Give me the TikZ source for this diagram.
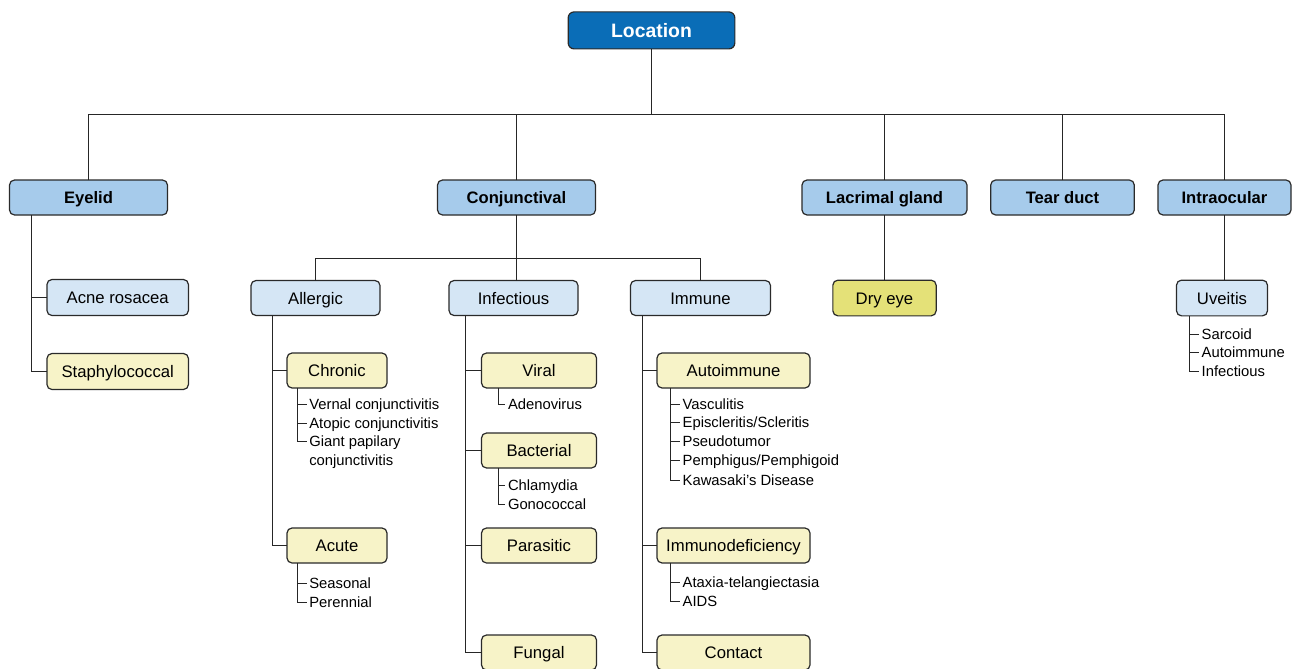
\documentclass[tikz,border=0pt]{standalone}
\usepackage{fontspec}
\setmainfont{Liberation Sans}
\definecolor{locblue}{HTML}{0A6DB7}
\definecolor{hdrblue}{HTML}{A6CBEB}
\definecolor{subblue}{HTML}{D5E6F5}
\definecolor{subyel}{HTML}{F7F3C8}
\definecolor{dryyel}{HTML}{E4E178}
\definecolor{edge}{HTML}{2A2A2A}
\begin{document}
\begin{tikzpicture}[x=1pt,y=-1pt,
  box/.style={draw=edge,line width=1.2pt,rounded corners=5pt,inner sep=0pt,outer sep=0pt,
    minimum height=35pt,align=center,font=\fontsize{16.7}{20}\selectfont,text height=12pt,text depth=0pt},
  rootbox/.style={box,fill=locblue,text=white,minimum height=37pt,rounded corners=6pt,
    font=\fontsize{19.4}{23}\selectfont\bfseries,text height=13.9pt},
  hdrbox/.style={box,fill=hdrblue,font=\fontsize{16.6}{20}\selectfont\bfseries},
  bluebox/.style={box,fill=subblue},
  yelbox/.style={box,fill=subyel},
  drybox/.style={box,fill=dryyel},
  item/.style={anchor=west,inner xsep=2.6pt,inner ysep=0pt,outer sep=0pt,font=\fontsize{14.8}{18}\selectfont,
    text height=10.6pt,text depth=0pt},
  conn/.style={draw=black!85,line width=1.5pt},
  lconn/.style={draw=black!85,line width=1.1pt}
]
\useasboundingbox (0,0) rectangle (1296,669);

% root and level 1
\node[rootbox,minimum width=166.7pt] (location) at (651.5,30.4) {Location};
\node[hdrbox,minimum width=158pt] (eyelid) at (88.5,197.5) {Eyelid};
\node[hdrbox,minimum width=158pt] (conj) at (516.5,197.5) {Conjunctival};
\node[hdrbox,minimum width=165pt] (lacr) at (884.5,197.5) {Lacrimal gland};
\node[hdrbox,minimum width=143.6pt] (tear) at (1062.5,197.5) {Tear duct};
\node[hdrbox,minimum width=133pt] (intra) at (1224.5,197.5) {Intraocular};

\coordinate (bus) at (651.5,114.5);
\draw[conn] (location.south) -- (bus);
\draw[conn] (eyelid.north) |- (bus) -| (intra.north);
\draw[conn] (conj.north) -- (conj.north |- bus);
\draw[conn] (lacr.north) -- (lacr.north |- bus);
\draw[conn] (tear.north) -- (tear.north |- bus);

% Eyelid
\node[bluebox,minimum width=141.5pt,minimum height=36pt] (acne) at (117.7,297.5) {Acne rosacea};
\node[yelbox,minimum width=141.5pt,minimum height=36pt] (staph) at (117.7,371.5) {Staphylococcal};
\coordinate (eyl) at ([xshift=22pt]eyelid.south west);
\draw[conn] (eyl) |- (staph.west);
\draw[conn] (eyl |- acne.west) -- (acne.west);

% Conjunctival level 2
\node[bluebox,minimum width=129pt] (allergic) at (315.5,298) {Allergic};
\node[bluebox,minimum width=129pt] (infectious) at (513.5,298) {Infectious};
\node[bluebox,minimum width=140pt] (immune) at (700.5,298) {Immune};
\coordinate (cbus) at (516.5,258.5);
\draw[conn] (conj.south) -- (conj.south |- infectious.north);
\draw[conn] (allergic.north) |- (cbus) -| (immune.north);

% Allergic
\node[yelbox,minimum width=100pt] (chronic) at (337,370.5) {Chronic};
\node[yelbox,minimum width=100pt] (acute) at (337,545.5) {Acute};
\coordinate (all) at ([xshift=21.5pt]allergic.south west);
\draw[conn] (all) |- (acute.west);
\draw[conn] (all |- chronic.west) -- (chronic.west);

\node[item] (cv1) at (306.7,404.5) {Vernal conjunctivitis};
\node[item] (cv2) at (306.7,423.5) {Atopic conjunctivitis};
\node[item] (cv3) at (306.7,441.5) {Giant papilary};
\node[item] (cv4) at (306.7,460.5) {conjunctivitis};
\coordinate (chl) at ([xshift=10.5pt]chronic.south west);
\draw[lconn] (chl) |- (cv3.west);
\draw[lconn] (chl |- cv1.west) -- (cv1.west);
\draw[lconn] (chl |- cv2.west) -- (cv2.west);

\node[item] (ac1) at (306.7,583.5) {Seasonal};
\node[item] (ac2) at (306.7,602.5) {Perennial};
\coordinate (acl) at ([xshift=10.5pt]acute.south west);
\draw[lconn] (acl) |- (ac2.west);
\draw[lconn] (acl |- ac1.west) -- (ac1.west);

% Infectious
\node[yelbox,minimum width=115pt] (viral) at (539,370.5) {Viral};
\node[yelbox,minimum width=115pt] (bacterial) at (539,450.5) {Bacterial};
\node[yelbox,minimum width=115pt] (parasitic) at (539,545.5) {Parasitic};
\node[yelbox,minimum width=115pt] (fungal) at (539,652.5) {Fungal};
\coordinate (inl) at ([xshift=16.5pt]infectious.south west);
\draw[conn] (inl) |- (fungal.west);
\draw[conn] (inl |- viral.west) -- (viral.west);
\draw[conn] (inl |- bacterial.west) -- (bacterial.west);
\draw[conn] (inl |- parasitic.west) -- (parasitic.west);

\node[item] (vi1) at (505.4,404.5) {Adenovirus};
\coordinate (vil) at ([xshift=17pt]viral.south west);
\draw[lconn] (vil) |- (vi1.west);

\node[item] (ba1) at (505.4,485.5) {Chlamydia};
\node[item] (ba2) at (505.4,504.5) {Gonococcal};
\coordinate (bal) at ([xshift=17pt]bacterial.south west);
\draw[lconn] (bal) |- (ba2.west);
\draw[lconn] (bal |- ba1.west) -- (ba1.west);

% Immune
\node[yelbox,minimum width=153pt] (autoimm) at (733.5,370.5) {Autoimmune};
\node[yelbox,minimum width=153pt] (immdef) at (733.5,545.5) {Immunodeficiency};
\node[yelbox,minimum width=153pt] (contact) at (733.5,652.5) {Contact};
\coordinate (iml) at ([xshift=12pt]immune.south west);
\draw[conn] (iml) |- (contact.west);
\draw[conn] (iml |- autoimm.west) -- (autoimm.west);
\draw[conn] (iml |- immdef.west) -- (immdef.west);

\node[item] (au1) at (680.1,404.5) {Vasculitis};
\node[item] (au2) at (680.1,422.5) {Episcleritis/Scleritis};
\node[item] (au3) at (680.1,441.5) {Pseudotumor};
\node[item] (au4) at (680.1,460.5) {Pemphigus/Pemphigoid};
\node[item] (au5) at (680.1,480.5) {Kawasaki's Disease};
\coordinate (aul) at ([xshift=13.5pt]autoimm.south west);
\draw[lconn] (aul) |- (au5.west);
\foreach \n in {au1,au2,au3,au4} \draw[lconn] (aul |- \n.west) -- (\n.west);

\node[item] (id1) at (680.1,582.5) {Ataxia-telangiectasia};
\node[item] (id2) at (680.1,601.5) {AIDS};
\coordinate (idl) at ([xshift=13.5pt]immdef.south west);
\draw[lconn] (idl) |- (id2.west);
\draw[lconn] (idl |- id1.west) -- (id1.west);

% Lacrimal gland
\node[drybox,minimum width=103.3pt,minimum height=35.7pt] (dryeye) at (884.5,298) {Dry eye};
\draw[conn] (lacr.south) -- (dryeye.north);

% Intraocular
\node[bluebox,minimum width=91pt,minimum height=35.7pt] (uveitis) at (1222,298) {Uveitis};
\draw[conn] (intra.south) -- (intra.south |- uveitis.north);
\node[item] (uv1) at (1199.1,334.5) {Sarcoid};
\node[item] (uv2) at (1199.1,352.5) {Autoimmune};
\node[item] (uv3) at (1199.1,371.5) {Infectious};
\coordinate (uvl) at ([xshift=13pt]uveitis.south west);
\draw[lconn] (uvl) |- (uv3.west);
\draw[lconn] (uvl |- uv1.west) -- (uv1.west);
\draw[lconn] (uvl |- uv2.west) -- (uv2.west);
\end{tikzpicture}
\end{document}
